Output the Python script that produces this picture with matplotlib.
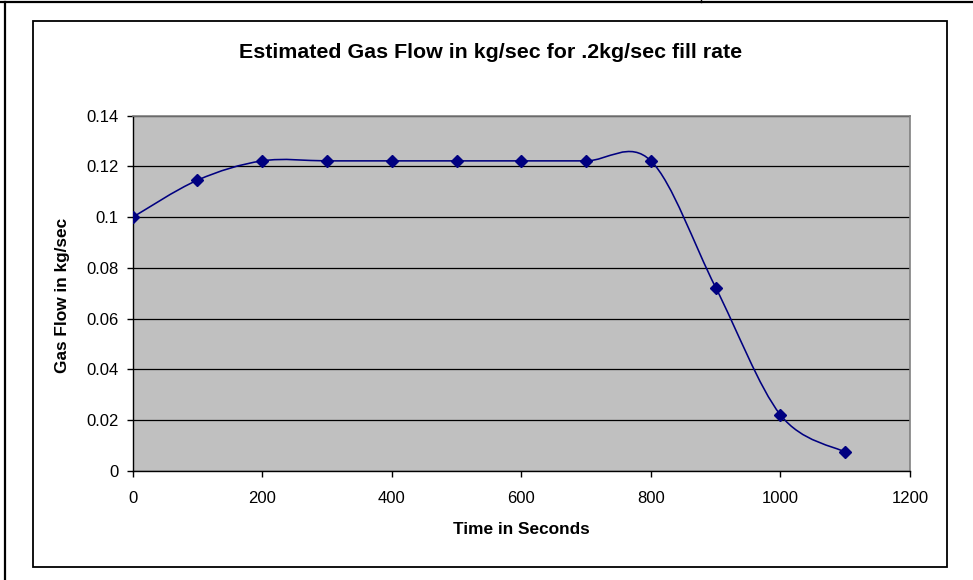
#!/usr/bin/env python3

"""Estimated gas flow over time, Excel-style smoothed line chart."""

import matplotlib

matplotlib.use("Agg")

import matplotlib.pyplot as plt
import numpy as np
from matplotlib.lines import Line2D
from matplotlib.patches import Rectangle
from matplotlib.path import Path
from matplotlib.patches import PathPatch
from matplotlib.ticker import FuncFormatter

time_s = [0, 100, 200, 300, 400, 500, 600, 700, 800, 900, 1000, 1100]
gas_flow = [0.1, 0.1146, 0.1222, 0.1222, 0.1222, 0.1222, 0.1222, 0.1222,
            0.1222, 0.0723, 0.0221, 0.0074]

x_ticks = [0, 200, 400, 600, 800, 1000, 1200]
y_ticks = [0, 0.02, 0.04, 0.06, 0.08, 0.1, 0.12, 0.14]

title = "Estimated Gas Flow in kg/sec for .2kg/sec fill rate"
x_label = "Time in Seconds"
y_label = "Gas Flow in kg/sec"

NAVY = "#000080"
W, H = 973, 580

plt.rcParams["font.family"] = ["Liberation Sans", "DejaVu Sans"]

fig = plt.figure(figsize=(W / 100, H / 100), dpi=100)


def fx(px):
    return px / W


def fy(py):
    return 1 - py / H


# outer sheet lines and inner chart box
fig.add_artist(Line2D([0, 1], [fy(2), fy(2)], color="black", lw=1.6))
fig.add_artist(Line2D([fx(701), fx(701)], [fy(0), fy(2)], color="black", lw=1.0))
fig.add_artist(Line2D([fx(5), fx(5)], [fy(2), 0], color="black", lw=1.6))
fig.add_artist(Rectangle((fx(33), fy(567)), fx(947) - fx(33), fy(21) - fy(567),
                         transform=fig.transFigure, fill=False,
                         edgecolor="black", lw=1.3))

ax = fig.add_axes([fx(132.7), fy(471), fx(910) - fx(132.7), fy(115.7) - fy(471)])
ax.set_facecolor("#c0c0c0")
ax.set_xlim(0, 1200)
ax.set_ylim(0, 0.14)
ax.set_xticks(x_ticks)
ax.set_yticks(y_ticks)
ax.yaxis.set_major_formatter(FuncFormatter(lambda v, _: f"{v:g}"))
ax.tick_params(direction="out", length=4.5, width=1, labelsize=12,
               colors="black")
ax.tick_params(axis="x", pad=10)
ax.tick_params(axis="y", pad=5.5)
ax.grid(True, axis="y", color="black", lw=0.9)
ax.set_axisbelow(True)
for side in ["top", "right"]:
    ax.spines[side].set_color("#808080")
    ax.spines[side].set_linewidth(1.2)
for side in ["left", "bottom"]:
    ax.spines[side].set_color("black")
    ax.spines[side].set_linewidth(1.0)

# smoothed line: cubic Bezier segments, control points from neighbour slope / 6
pts = np.column_stack([time_s, gas_flow]).astype(float)
verts = [pts[0]]
codes = [Path.MOVETO]
n = len(pts)
for i in range(n - 1):
    p_prev = pts[i - 1] if i > 0 else pts[i]
    p_next = pts[i + 2] if i + 2 < n else pts[i + 1]
    c1 = pts[i] + (pts[i + 1] - p_prev) / 6
    c2 = pts[i + 1] - (p_next - pts[i]) / 6
    verts += [c1, c2, pts[i + 1]]
    codes += [Path.CURVE4] * 3
ax.add_patch(PathPatch(Path(verts, codes), fill=False, edgecolor=NAVY, lw=1.15,
                       zorder=3))
ax.plot(time_s, gas_flow, linestyle="none", marker="D", markersize=6.5,
        color=NAVY, zorder=4)

fig.text(fx(491), fy(52), title, ha="center", va="center", fontsize=15.4,
         fontweight="bold")
fig.text(fx(521), fy(530), x_label, ha="center", va="center", fontsize=12.4,
         fontweight="bold")
fig.text(fx(63), fy(295), y_label, ha="center", va="center", fontsize=12.4,
         fontweight="bold", rotation=90)

fig.savefig("out.png", dpi=100)
